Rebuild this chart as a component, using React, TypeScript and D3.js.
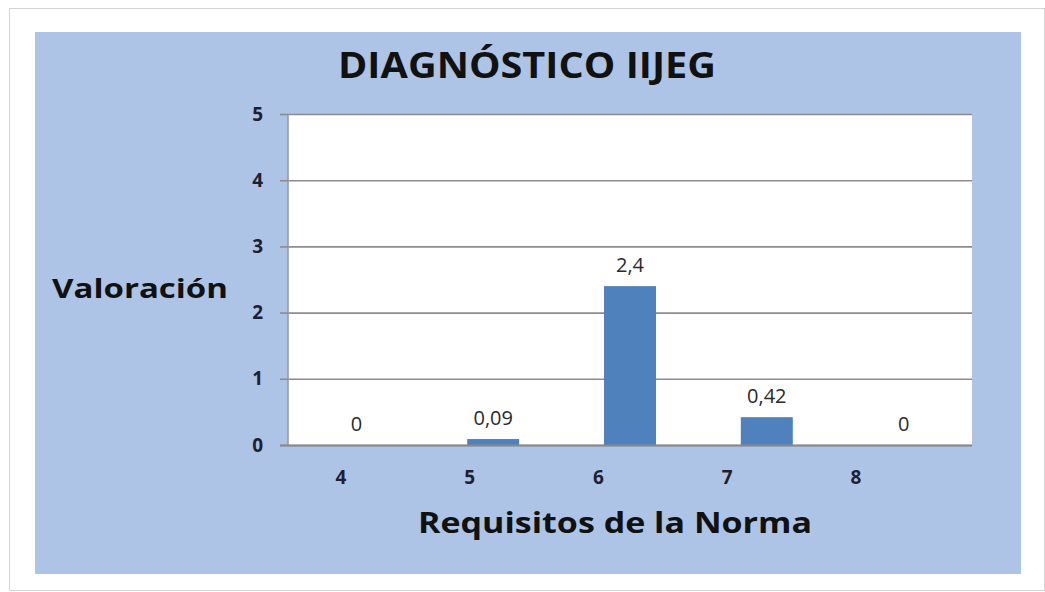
import { useEffect, useRef } from 'react'
import * as d3 from 'd3'

const categories = ['4', '5', '6', '7', '8']
const values = [0, 0.09, 2.4, 0.42, 0]
const valueLabels = ['0', '0,09', '2,4', '0,42', '0']
const yTicks = [0, 1, 2, 3, 4, 5]

const width = 1045
const height = 592
const plot = { left: 288, top: 114, right: 972, bottom: 445 }
const FONT = '"Open Sans", Lato, sans-serif'

function App() {
  const ref = useRef<SVGSVGElement>(null)

  useEffect(() => {
    const svg = d3.select(ref.current)
    svg.selectAll('*').remove()

    // outer white frame + blue chart area
    svg
      .append('rect')
      .attr('x', 9.5)
      .attr('y', 8.5)
      .attr('width', 1035)
      .attr('height', 582)
      .attr('fill', '#fff')
      .attr('stroke', '#d4d4d4')
    svg
      .append('rect')
      .attr('x', 35)
      .attr('y', 32)
      .attr('width', 986)
      .attr('height', 542)
      .attr('fill', '#adc4e6')

    const x = d3
      .scaleBand()
      .domain(categories)
      .range([plot.left, plot.right])
      .paddingInner(0.62)
      .paddingOuter(0.31)
    // tick labels sit a bit left of the bars in the original picture
    const xLabel = d3.scalePoint().domain(categories).range([341, 856])
    const y = d3.scaleLinear().domain([0, 5]).range([plot.bottom, plot.top])

    svg
      .append('rect')
      .attr('x', plot.left)
      .attr('y', plot.top)
      .attr('width', plot.right - plot.left)
      .attr('height', plot.bottom - plot.top)
      .attr('fill', '#fff')

    // grid
    svg
      .append('g')
      .attr('transform', `translate(${plot.left},0)`)
      .call(
        d3
          .axisLeft(y)
          .tickValues(yTicks)
          .tickSize(-(plot.right - plot.left))
          .tickFormat('' as any)
      )
      .call((g) => g.select('.domain').remove())
      .call((g) =>
        g.selectAll('line').attr('stroke', '#8c8c8c').attr('stroke-width', 1.6)
      )

    // y axis line + ticks
    svg
      .append('g')
      .attr('transform', `translate(${plot.left},0)`)
      .call(
        d3
          .axisLeft(y)
          .tickValues(yTicks)
          .tickFormat(d3.format('d'))
          .tickSize(8)
          .tickPadding(17)
      )
      .call((g) =>
        g
          .select('.domain')
          .attr('stroke', '#9a9a9a')
          .attr('stroke-width', 1.6)
          .attr('d', `M0,${plot.bottom}V${plot.top}`)
      )
      .call((g) => g.selectAll('line').attr('stroke', '#8c8c8c').attr('stroke-width', 1.6))
      .call((g) =>
        g
          .selectAll('text')
          .attr('fill', '#1f1f2f')
          .style('font', `bold 19px ${FONT}`)
      )

    // bars
    svg
      .append('g')
      .selectAll('rect')
      .data(values)
      .join('rect')
      .attr('x', (_, i) => x(categories[i])!)
      .attr('y', (d) => y(d))
      .attr('width', x.bandwidth())
      .attr('height', (d) => y(0) - y(d))
      .attr('fill', '#4f81bd')

    // x axis baseline
    svg
      .append('line')
      .attr('x1', plot.left - 8)
      .attr('x2', plot.right)
      .attr('y1', plot.bottom + 0.5)
      .attr('y2', plot.bottom + 0.5)
      .attr('stroke', '#8a8a8a')
      .attr('stroke-width', 2)

    // value labels
    svg
      .append('g')
      .selectAll('text')
      .data(values)
      .join('text')
      .attr('x', (_, i) => x(categories[i])! + x.bandwidth() / 2)
      .attr('y', (d) => y(d) - 14)
      .attr('text-anchor', 'middle')
      .attr('fill', '#2a2a2a')
      .style('font', `20px ${FONT}`)
      .text((_, i) => valueLabels[i])

    // x tick labels
    svg
      .append('g')
      .selectAll('text')
      .data(categories)
      .join('text')
      .attr('x', (d) => xLabel(d)!)
      .attr('y', 484)
      .attr('text-anchor', 'middle')
      .attr('fill', '#1f1f2f')
      .style('font', `bold 19px ${FONT}`)
      .text((d) => d)

    svg
      .append('text')
      .attr('x', 338)
      .attr('y', 78)
      .attr('textLength', 378)
      .attr('lengthAdjust', 'spacingAndGlyphs')
      .attr('fill', '#111')
      .style('font', `bold 35px ${FONT}`)
      .text('DIAGNÓSTICO IIJEG')

    svg
      .append('text')
      .attr('x', 52)
      .attr('y', 298)
      .attr('textLength', 176)
      .attr('lengthAdjust', 'spacingAndGlyphs')
      .attr('fill', '#111')
      .style('font', `bold 27px ${FONT}`)
      .text('Valoración')

    svg
      .append('text')
      .attr('x', 418)
      .attr('y', 533)
      .attr('textLength', 394)
      .attr('lengthAdjust', 'spacingAndGlyphs')
      .attr('fill', '#111')
      .style('font', `bold 29px ${FONT}`)
      .text('Requisitos de la Norma')
  }, [])

  return (
    <svg
      ref={ref}
      width={width}
      height={height}
      style={{ position: 'absolute', left: 0, top: 0, display: 'block' }}
    />
  )
}

export default App
